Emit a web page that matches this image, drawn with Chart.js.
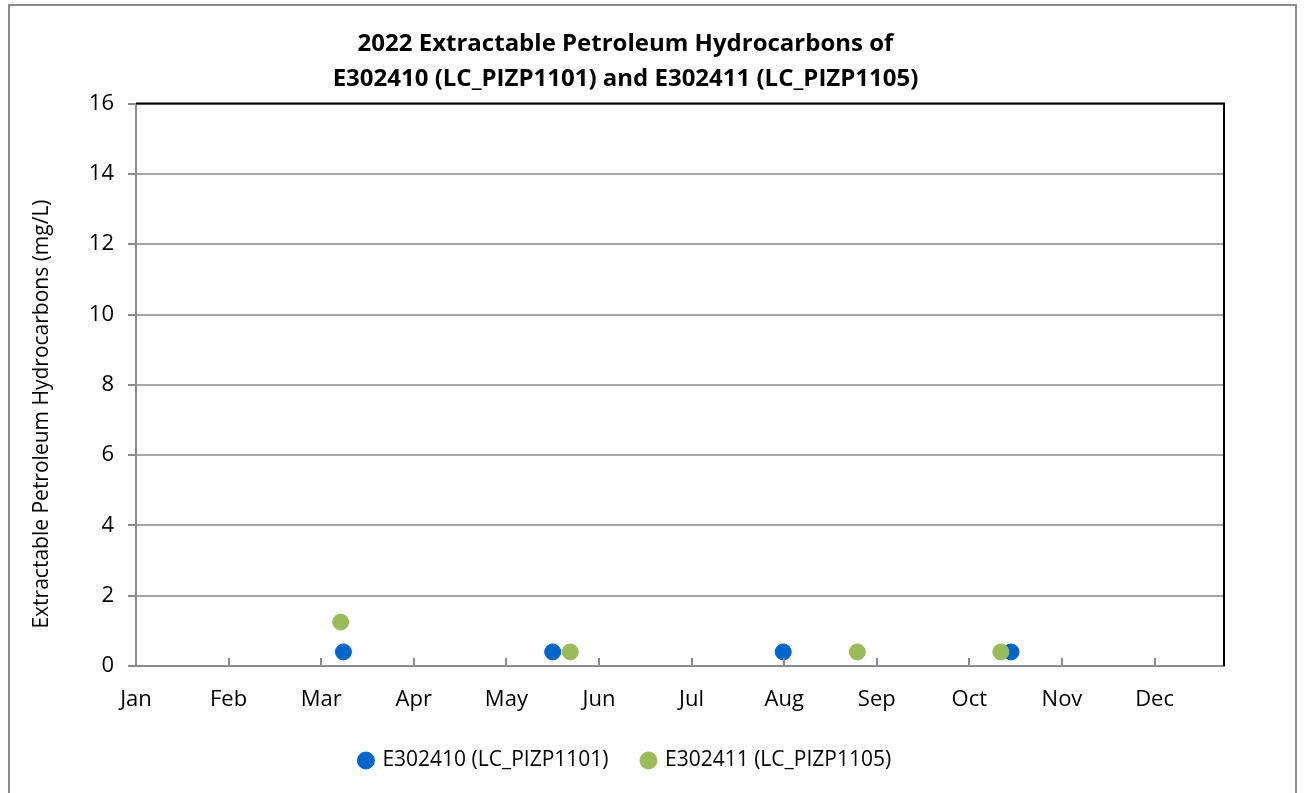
<!DOCTYPE html>
<html>
<head>
<meta charset="utf-8">
<script src="https://cdn.jsdelivr.net/npm/chart.js@4"></script>
<style>
  html, body { margin: 0; padding: 0; background: #fff; }
  #wrap { position: absolute; left: 0; top: 0; width: 1304px; height: 793px; }
</style>
</head>
<body>
<div id="wrap"><canvas id="chart"></canvas></div>
<script>
// Month tick labels (x in month units, 0 = Jan)
const monthLabels = ['Jan', 'Feb', 'Mar', 'Apr', 'May', 'Jun', 'Jul', 'Aug', 'Sep', 'Oct', 'Nov', 'Dec'];

// E302410 (LC_PIZP1101)
const siteAX = [2.24, 4.50, 6.99, 9.45];
const siteAY = [0.4, 0.4, 0.4, 0.4];

// E302411 (LC_PIZP1105)
const siteBX = [2.21, 4.69, 7.79, 9.34];
const siteBY = [1.25, 0.4, 0.4, 0.4];

const yTitle = 'Extractable Petroleum Hydrocarbons (mg/L)';

const FONT = '"Open Sans", "Liberation Sans", sans-serif';

function toPoints(xs, ys) {
    return xs.map((x, i) => ({ x: x, y: ys[i] }));
}

// outer frame, black top/right border, inward x tick marks, y axis title
const framePlugin = {
    id: 'frame',
    beforeDraw(chart) {
        const ctx = chart.ctx;
        ctx.save();
        ctx.fillStyle = '#fff';
        ctx.fillRect(0, 0, chart.width, chart.height);
        ctx.strokeStyle = '#8c8c8c';
        ctx.lineWidth = 2;
        ctx.strokeRect(9, 5, 1287, 820);
        ctx.restore();
    },
    afterDraw(chart) {
        const ctx = chart.ctx;
        const a = chart.chartArea;
        const xs = chart.scales.x;
        ctx.save();
        ctx.strokeStyle = '#000';
        ctx.lineWidth = 2;
        ctx.beginPath();
        ctx.moveTo(a.left, a.top);
        ctx.lineTo(a.right, a.top);
        ctx.lineTo(a.right, a.bottom);
        ctx.stroke();
        ctx.strokeStyle = '#8c8c8c';
        ctx.beginPath();
        for (let i = 1; i < monthLabels.length; i++) {
            const px = Math.round(xs.getPixelForValue(i));
            ctx.moveTo(px, a.bottom);
            ctx.lineTo(px, a.bottom - 8);
        }
        ctx.stroke();

        // y axis title (Excel puts it a little below the axis middle)
        ctx.translate(42, 414);
        ctx.rotate(-Math.PI / 2);
        ctx.fillStyle = '#000';
        ctx.font = '21px ' + FONT;
        ctx.textAlign = 'center';
        ctx.textBaseline = 'middle';
        ctx.fillText(yTitle, 0, 0);
        ctx.restore();
    }
};

new Chart(document.getElementById('chart'), {
    type: 'scatter',
    plugins: [framePlugin],
    data: {
        datasets: [
            {
                label: 'E302410 (LC_PIZP1101)',
                data: toPoints(siteAX, siteAY),
                backgroundColor: '#0066CC',
                borderColor: '#0066CC',
                pointRadius: 8,
                pointHoverRadius: 8,
                order: 2
            },
            {
                label: 'E302411 (LC_PIZP1105)',
                data: toPoints(siteBX, siteBY),
                backgroundColor: '#9BBB59',
                borderColor: '#9BBB59',
                pointRadius: 8,
                pointHoverRadius: 8,
                order: 1
            }
        ]
    },
    options: {
        responsive: true,
        maintainAspectRatio: false,
        animation: false,
        layout: {
            padding: { left: 27, right: 80, top: 11, bottom: 12 }
        },
        plugins: {
            title: {
                display: true,
                text: ['2022 Extractable Petroleum Hydrocarbons of', 'E302410 (LC_PIZP1101) and E302411 (LC_PIZP1105)'],
                color: '#000',
                font: { family: FONT, size: 24, weight: 'bold', lineHeight: 1.45 },
                padding: { top: 16, bottom: 7 }
            },
            legend: {
                position: 'bottom',
                labels: {
                    usePointStyle: true,
                    pointStyle: 'circle',
                    boxWidth: 12,
                    boxHeight: 12,
                    padding: 34,
                    color: '#000',
                    font: { family: FONT, size: 21 },
                    sort: (a, b) => a.datasetIndex - b.datasetIndex
                }
            },
            tooltip: { enabled: false }
        },
        scales: {
            x: {
                type: 'linear',
                min: 0,
                max: 11.75,
                afterFit(scale) { scale.height = 50; },
                afterBuildTicks(scale) {
                    scale.ticks = monthLabels.map((m, i) => ({ value: i }));
                },
                ticks: {
                    autoSkip: false,
                    maxRotation: 0,
                    padding: 21,
                    color: '#000',
                    font: { family: FONT, size: 22 },
                    callback(value) {
                        return monthLabels[value];
                    }
                },
                grid: { display: false, drawTicks: false },
                border: { display: true, color: '#8c8c8c', width: 2 }
            },
            y: {
                min: 0,
                max: 16,
                afterFit(scale) { scale.width = 109; },
                ticks: {
                    stepSize: 2,
                    padding: 14,
                    color: '#000',
                    font: { family: FONT, size: 22 }
                },
                grid: {
                    color: '#a6a6a6',
                    lineWidth: 2,
                    tickLength: 8,
                    tickColor: '#8c8c8c'
                },
                border: { display: true, color: '#8c8c8c', width: 2 },
                title: { display: false }
            }
        }
    }
});
</script>
</body>
</html>
